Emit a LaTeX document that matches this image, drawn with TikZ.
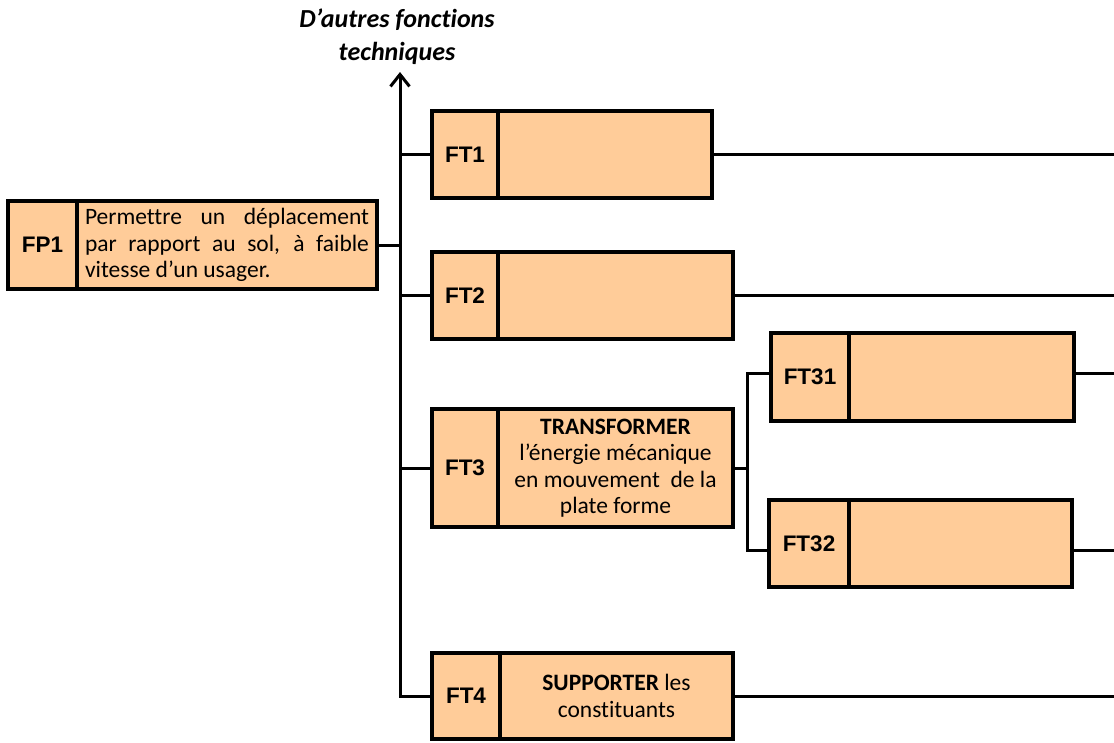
\documentclass[tikz,border=0pt]{standalone}
\usepackage{fontspec}
\setmainfont[Ligatures={NoCommon}]{Carlito}
\newfontfamily\labelfont{Liberation Sans}
\usetikzlibrary{arrows.meta}
\definecolor{peach}{HTML}{FFCC99}
\tikzset{
  cell/.style={draw=black, fill=peach, line width=3.2pt, inner sep=0pt, outer sep=0pt, anchor=north west},
  lab/.style={cell, font=\labelfont\bfseries\fontsize{22.5}{25}\selectfont},
  body/.style={cell, font=\fontsize{23.5}{26.5}\selectfont, align=center},
  wire/.style={line width=3pt, draw=black},
  titletext/.style={font=\bfseries\itshape\fontsize{26}{33}\selectfont, align=center},
}
\begin{document}
\begin{tikzpicture}[x=1pt,y=-1pt]
\useasboundingbox (0,0) rectangle (1114,742);
% title
\node[titletext] (title) at (397,37) {D’autres fonctions\\techniques};
% FP1
\node[lab, minimum width=69pt, minimum height=88pt] (fp1) at (8,201) {FP1};
\node[body, minimum width=300pt, minimum height=88pt, text width=284pt, align=justify] (fp1t) at (fp1.north east)
  {Permettre un déplacement\linebreak par rapport au sol, à faible\linebreak vitesse d’un usager.};
% FT1
\node[lab, minimum width=66pt, minimum height=87pt] (ft1) at (432,111) {FT1};
\node[body, minimum width=214pt, minimum height=87pt] (ft1t) at (ft1.north east) {};
% FT2
\node[lab, minimum width=66pt, minimum height=87pt] (ft2) at (432,252) {FT2};
\node[body, minimum width=235pt, minimum height=87pt] (ft2t) at (ft2.north east) {};
% FT3
\node[lab, minimum width=66pt, minimum height=118pt] (ft3) at (432,409) {FT3};
\node[body, minimum width=235pt, minimum height=118pt] (ft3t) at (ft3.north east)
  {{\bfseries TRANSFORMER}\\l’énergie mécanique\\en mouvement~ de la\\plate forme};
% FT31
\node[lab, minimum width=78pt, minimum height=88pt] (ft31) at (771,333) {FT31};
\node[body, minimum width=225pt, minimum height=88pt] (ft31t) at (ft31.north east) {};
% FT32
\node[lab, minimum width=80pt, minimum height=87pt] (ft32) at (769,500) {FT32};
\node[body, minimum width=223pt, minimum height=87pt] (ft32t) at (ft32.north east) {};
% FT4
\node[lab, minimum width=68pt, minimum height=86pt] (ft4) at (432,653) {FT4};
\node[body, minimum width=233pt, minimum height=86pt] (ft4t) at (ft4.north east)
  {{\bfseries SUPPORTER} les\\constituants};
% helper coordinates
\coordinate (spinetop) at (400,72);
\coordinate (redge) at (1114,0);
\coordinate (j3) at (747,0);
\coordinate (c31) at ([yshift=4pt]ft31.west);
\coordinate (c31r) at ([yshift=4pt]ft31t.east);
\coordinate (c32) at ([yshift=-6.5pt]ft32.west);
\coordinate (c32r) at ([yshift=-6.5pt]ft32t.east);
% spine with arrow
\draw[wire, {Straight Barb[length=12pt, width=19pt]}-] (spinetop) |- (ft4.west);
\draw[wire] (fp1t.east) -- (fp1t.east -| spinetop);
\draw[wire] (ft1.west -| spinetop) -- (ft1.west);
\draw[wire] (ft2.west -| spinetop) -- (ft2.west);
\draw[wire] (ft3.west -| spinetop) -- (ft3.west);
% FT3 branch
\draw[wire] (ft3t.east) -- (ft3t.east -| j3);
\draw[wire] (c31) -| (c32 -| j3) -- (c32);
% right outgoing lines
\draw[wire] (ft1t.east) -- (ft1t.east -| redge);
\draw[wire] (ft2t.east) -- (ft2t.east -| redge);
\draw[wire] (c31r) -- (c31r -| redge);
\draw[wire] (c32r) -- (c32r -| redge);
\draw[wire] (ft4t.east) -- (ft4t.east -| redge);
\end{tikzpicture}
\end{document}
